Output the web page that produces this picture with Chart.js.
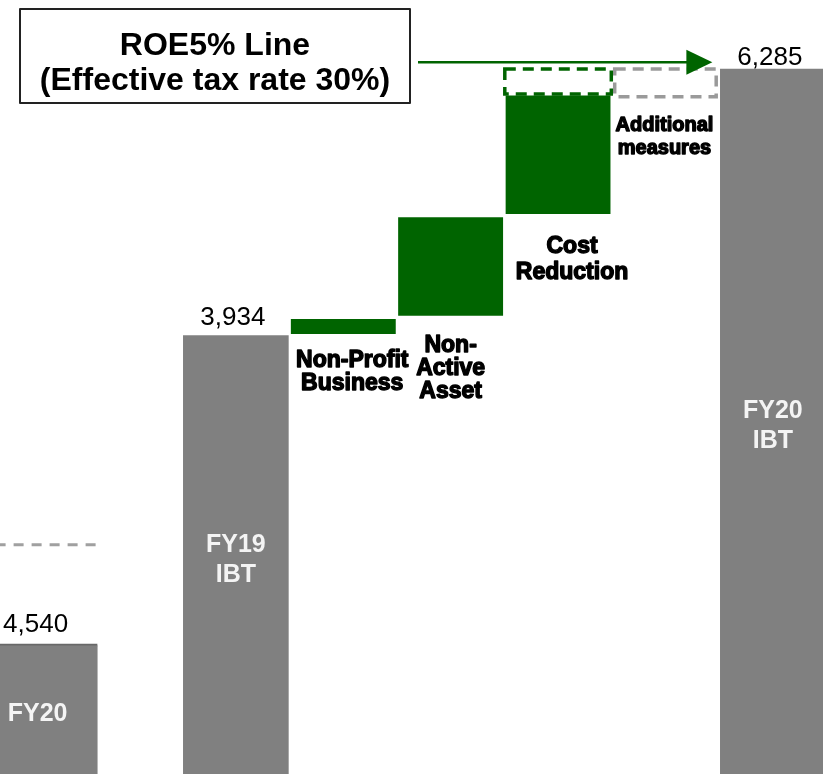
<!DOCTYPE html>
<html>
<head>
<meta charset="utf-8">
<script src="https://cdn.jsdelivr.net/npm/chart.js@4.4.1/dist/chart.umd.min.js"></script>
<style>
  html, body { margin: 0; padding: 0; background: #ffffff; overflow: hidden; }
  canvas { display: block; }
</style>
</head>
<body>
<canvas id="c" width="823" height="774"></canvas>
<script>
// ---- FY20 panel (own scale) ----
const FY20_LABEL = 'FY20';
const FY20_VALUE = 4540;
const FY20_TARGET = 8000;

// ---- Bridge: FY19 IBT -> FY20 IBT ----
const CATEGORIES = ['FY19\nIBT', 'Non-Profit\nBusiness', 'Non-\nActive\nAsset', 'Cost\nReduction', 'Additional\nmeasures', 'FY20\nIBT'];
const KIND       = ['total', 'step', 'step', 'step', 'plan', 'total'];
const BAR_START  = [0, 3934, 4095, 4992, null, 0];
const BAR_END    = [3934, 4095, 4992, 6065, null, 6285];
// planned additional measures, drawn as dashed outlines
const PLAN_START = [null, null, null, 6065, 6040, null];
const PLAN_END   = [null, null, null, 6285, 6285, null];

// ROE 5% level pointed at by the callout arrow
const ROE5_LEVEL = 6344;
const CALLOUT = ['ROE5% Line', '(Effective tax rate 30%)'];

// ---- styling ----
const GREY = '#808080';
const GREEN = '#006400';
const FONT = "'Liberation Sans', Arial, sans-serif";
const PLAN_STYLE = { 3: { color: GREEN, w: 106.5 }, 4: { color: '#9a9a9a', w: 101.5 } };
const STEP_LABEL_STYLE = {
  1: { size: 23, dx: 9,  dy: 31, lh: 23 },
  2: { size: 23, dx: 0,  dy: 35, lh: 23 },
  3: { size: 23, dx: 14, dy: 37, lh: 26 },
  4: { size: 20, dx: -1, dy: 34, lh: 23 }
};
const TOTAL_LABEL_LIFT = { 0: 11, 5: 3.5 };

const idx = CATEGORIES.map((_, i) => i);
const bridgeData = idx.filter(i => BAR_START[i] !== null).map(i => ({ x: i, y: [BAR_START[i], BAR_END[i]] }));
const planData = idx.filter(i => PLAN_START[i] !== null).map(i => ({ x: i, y: [PLAN_START[i], PLAN_END[i]] }));

function fmt(v) { return v.toLocaleString('en-US'); }

const annotate = {
  id: 'annotate',
  afterDatasetsDraw(chart) {
    const ctx = chart.ctx;
    const y = chart.scales.y, yl = chart.scales.yl;
    const bridge = chart.getDatasetMeta(0), plan = chart.getDatasetMeta(1), left = chart.getDatasetMeta(2);
    const el = {}; bridge.data.forEach((e, j) => { el[bridgeData[j].x] = e; });
    const pel = {}; plan.data.forEach((e, j) => { pel[planData[j].x] = e; });

    ctx.save();

    // dashed outlines of additional measures (grey first, green on top)
    [4, 3].forEach(i => {
      const e = pel[i], s = PLAN_STYLE[i];
      ctx.setLineDash([11, 7]);
      ctx.lineWidth = 3.5;
      ctx.strokeStyle = s.color;
      ctx.strokeRect(e.x - s.w / 2, e.y, s.w, e.base - e.y);
    });

    // FY20 panel: target dashed line
    const b = left.data[0];
    const ty = yl.getPixelForValue(FY20_TARGET);
    ctx.setLineDash([10, 8]);
    ctx.lineWidth = 3;
    ctx.strokeStyle = '#a0a0a0';
    ctx.beginPath();
    ctx.moveTo(b.x - b.width / 2, ty);
    ctx.lineTo(b.x + b.width / 2, ty);
    ctx.stroke();
    ctx.setLineDash([]);

    // value labels above totals
    ctx.fillStyle = '#000';
    ctx.font = `26px ${FONT}`;
    ctx.textAlign = 'center';
    ctx.textBaseline = 'alphabetic';
    ctx.fillText(fmt(FY20_VALUE), b.x - 2, b.y - 12);
    idx.filter(i => KIND[i] === 'total').forEach(i => {
      const e = el[i];
      ctx.fillText(fmt(BAR_END[i]), e.x - 3, e.y - TOTAL_LABEL_LIFT[i]);
    });

    // labels inside totals
    ctx.fillStyle = '#f4f4f4';
    ctx.font = `bold 25px ${FONT}`;
    ctx.fillText(FY20_LABEL, b.x, (b.y + b.base) / 2 + 12);
    idx.filter(i => KIND[i] === 'total').forEach(i => {
      const e = el[i];
      const lines = CATEGORIES[i].split('\n');
      const mid = (e.y + e.base) / 2;
      const lh = 30;
      const first = mid + 8 - (lines.length - 1) * lh / 2;
      lines.forEach((t, k) => ctx.fillText(t, e.x, first + k * lh));
    });

    // step labels below the moves
    ctx.fillStyle = '#000';
    ctx.strokeStyle = '#000';
    ctx.lineJoin = 'round';
    Object.keys(STEP_LABEL_STYLE).forEach(k => {
      const i = +k, s = STEP_LABEL_STYLE[i];
      const e = KIND[i] === 'plan' ? pel[i] : el[i];
      ctx.font = `bold ${s.size}px ${FONT}`;
      ctx.lineWidth = 1.4;
      CATEGORIES[i].split('\n').forEach((t, n) => {
        const ly = e.base + s.dy + n * s.lh;
        ctx.strokeText(t, e.x + s.dx, ly);
        ctx.fillText(t, e.x + s.dx, ly);
      });
    });

    // callout box
    ctx.fillStyle = '#ffffff';
    ctx.fillRect(20, 9, 390, 94);
    ctx.lineWidth = 2;
    ctx.strokeStyle = '#222222';
    ctx.strokeRect(20, 9, 390, 94);
    ctx.fillStyle = '#000';
    ctx.font = `bold 32px ${FONT}`;
    ctx.fillText(CALLOUT[0], 215, 55);
    ctx.fillText(CALLOUT[1], 215, 90);

    // arrow from callout to FY20 IBT
    const fy20 = el[5];
    const ay = y.getPixelForValue(ROE5_LEVEL);
    const x0 = 418, tip = fy20.x - fy20.width / 2 - 8;
    ctx.strokeStyle = GREEN;
    ctx.fillStyle = GREEN;
    ctx.lineWidth = 2.5;
    ctx.beginPath();
    ctx.moveTo(x0, ay);
    ctx.lineTo(tip - 20, ay);
    ctx.stroke();
    ctx.beginPath();
    ctx.moveTo(tip, ay);
    ctx.lineTo(tip - 26, ay - 12.5);
    ctx.lineTo(tip - 26, ay + 12.5);
    ctx.closePath();
    ctx.fill();

    ctx.restore();
  }
};

new Chart(document.getElementById('c'), {
  type: 'bar',
  data: {
    datasets: [
      {
        label: 'Bridge',
        data: bridgeData,
        xAxisID: 'x', yAxisID: 'y',
        backgroundColor: ctx => KIND[ctx.raw.x] === 'total' ? GREY : GREEN,
        borderColor: '#ffffff',
        borderWidth: ctx => KIND[ctx.raw.x] === 'step' ? { top: 2, bottom: 2, left: 0, right: 0 } : 0,
        borderSkipped: false,
        barThickness: 105,
        grouped: false
      },
      {
        label: 'Additional measures',
        data: planData,
        xAxisID: 'x', yAxisID: 'y',
        backgroundColor: 'rgba(0,0,0,0)',
        borderWidth: 0,
        barThickness: 105,
        grouped: false
      },
      {
        label: FY20_LABEL,
        data: [{ x: 0, y: FY20_VALUE }],
        xAxisID: 'xl', yAxisID: 'yl',
        backgroundColor: GREY,
        borderColor: '#686868',
        borderWidth: { top: 2, bottom: 0, left: 0, right: 0 },
        borderSkipped: false,
        barThickness: 120,
        grouped: false
      }
    ]
  },
  options: {
    responsive: false,
    animation: false,
    devicePixelRatio: 1,
    layout: { padding: 0 },
    plugins: { legend: { display: false }, tooltip: { enabled: false } },
    scales: {
      x:  { type: 'linear', display: false, offset: false, min: -2.196, max: 5.467 },
      y:  { type: 'linear', display: false, min: 70, max: 6893 },
      xl: { type: 'linear', axis: 'x', display: false, offset: false, min: -0.35, max: 7.31 },
      yl: { type: 'linear', axis: 'y', display: false, min: 0, max: 27000 }
    }
  },
  plugins: [annotate]
});
</script>
</body>
</html>
